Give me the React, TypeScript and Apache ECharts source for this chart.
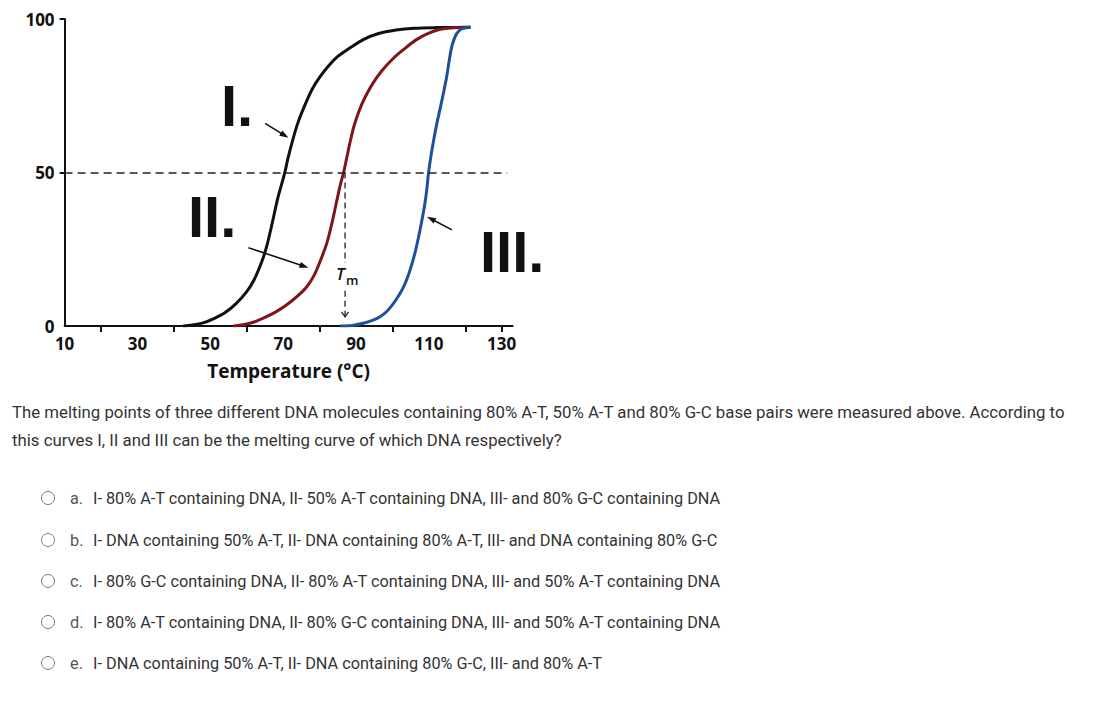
import React, { useEffect, useRef } from "react";
import * as echarts from "echarts";

// Axis values
const xLabelValues = [10, 30, 50, 70, 90, 110, 130];
const xTickValues = [20, 40, 60, 80, 100, 120, 130];
const yLabelValues = [0, 50, 100];
const yTickValues = [50, 100];

// Melting curves: [temperature °C, % denatured]
const curveI = [
  [42.6, 0], [45, 0.3], [48, 1.0], [51, 2.4], [54, 4.3], [57, 7.2], [60, 11.2], [62, 15],
  [64, 20.5], [65.5, 26], [67, 33.5], [68.5, 41.5], [70.4, 49.7], [71.3, 54.5], [72.5, 60],
  [74, 66], [76, 72], [78, 77.2], [80, 81], [82.5, 84.8], [85, 87.8], [88, 90.3], [92, 93.3],
  [96, 95.2], [101, 96.4], [106, 97], [112, 97.2], [121.4, 97.3],
];
const curveII = [
  [56.3, 0], [59, 0.4], [62, 1.3], [65, 2.8], [68, 4.6], [71, 6.9], [74, 9.8], [76.5, 12.8],
  [78.5, 16.5], [80.3, 21.5], [82, 27], [83.3, 33], [84.5, 39.5], [85.6, 45.5], [86.6, 50],
  [87.5, 55], [88.5, 60.5], [89.5, 65.3], [91, 70.5], [92.5, 74.5], [94.5, 78.8], [97, 83],
  [100, 86.9], [103, 90], [106.5, 93.2], [110, 95.4], [114, 96.8], [121.4, 97.3],
];
const curveIII = [
  [85.7, 0], [89, 0.2], [92, 0.9], [94.5, 1.8], [96.6, 3], [98.5, 4.8], [100.3, 7.4],
  [101.8, 10], [103.1, 12.8], [104.3, 16.3], [105.4, 20.4], [106.4, 24.8], [107.2, 29.1],
  [108, 33.8], [108.8, 39], [109.4, 44], [109.9, 49.7], [110.6, 55.5], [111.4, 61],
  [112.3, 66.5], [113.1, 70.8], [114, 75.8], [114.9, 81.2], [115.6, 86.5], [116.3, 91],
  [117, 93.6], [117.7, 95.3], [118.5, 96.4], [119.5, 97], [121.4, 97.3],
];

const halfLevel = 50;
const tmValue = 87;

// Pointer arrows [fromX, fromY, toX, toY] in data units
const pointerArrows = [
  [65.05, 66.0, 71.46, 61.3],
  [60.47, 25.5, 76.95, 19.0],
  [116.35, 31.3, 109.5, 35.6],
];
// Tm drop line segments [x, yTop, x, yBottom, hasHead]
const tmSegments = [
  [tmValue, halfLevel, tmValue, 20.5, 0],
  [tmValue, 11.5, tmValue, 3.0, 1],
];

const questionLines = [
  "The melting points of three different DNA molecules containing 80% A-T, 50% A-T and 80% G-C base pairs were measured above. According to",
  "this curves I, II and III can be the melting curve of which DNA respectively?",
];
const optionLetters = ["a.", "b.", "c.", "d.", "e."];
const optionTexts = [
  "I- 80% A-T containing DNA, II- 50% A-T containing DNA, III- and 80% G-C containing DNA",
  "I- DNA containing 50% A-T, II- DNA containing 80% A-T, III- and DNA containing 80% G-C",
  "I- 80% G-C containing DNA, II- 80% A-T containing DNA, III- and 50% A-T containing DNA",
  "I- 80% A-T containing DNA, II- 80% G-C containing DNA, III- and 50% A-T containing DNA",
  "I- DNA containing 50% A-T, II- DNA containing 80% G-C, III- and 80% A-T",
];

const AXIS_FONT = '"Open Sans", "DejaVu Sans", sans-serif';
const BODY_FONT = 'Roboto, "Liberation Sans", sans-serif';
const ROMAN_FONT = '"Liberation Sans", Arial, sans-serif';

export default function App() {
  const ref = useRef<HTMLDivElement>(null);

  useEffect(() => {
    if (!ref.current) return;
    const chart = echarts.init(ref.current, undefined, { renderer: "svg" });

    const lineSeries = (name: string, data: number[][], color: string, extra: any = {}) => ({
      name,
      type: "line",
      data,
      smooth: 0.3,
      showSymbol: false,
      silent: true,
      lineStyle: { color, width: 3 },
      z: 3,
      ...extra,
    });

    const optionY = [498, 540, 581, 622, 663];
    const graphic: any[] = [
      { type: "text", x: 221, y: 105, style: { text: "I.", font: `bold 58px ${ROMAN_FONT}`, fill: "#111", textVerticalAlign: "middle" } },
      { type: "text", x: 188, y: 216, style: { text: "II.", font: `bold 58px ${ROMAN_FONT}`, fill: "#111", textVerticalAlign: "middle" } },
      { type: "text", x: 480, y: 251, style: { text: "III.", font: `bold 58px ${ROMAN_FONT}`, fill: "#111", textVerticalAlign: "middle" } },
      { type: "text", x: 336, y: 273, style: { text: "T", font: `italic 600 17px ${AXIS_FONT}`, fill: "#111", textVerticalAlign: "middle" } },
      { type: "text", x: 346, y: 280, style: { text: "m", font: `600 13px ${AXIS_FONT}`, fill: "#111", textVerticalAlign: "middle" } },
    ];
    questionLines.forEach((t, i) => {
      graphic.push({ type: "text", x: 12, y: 412 + i * 28, style: { text: t, font: `16.8px ${BODY_FONT}`, fill: "#333", textVerticalAlign: "middle" } });
    });
    optionTexts.forEach((t, i) => {
      graphic.push({ type: "circle", shape: { cx: 48, cy: optionY[i], r: 6.5 }, style: { fill: "#fff", stroke: "#777", lineWidth: 1 } });
      graphic.push({ type: "text", x: 70, y: optionY[i], style: { text: optionLetters[i], font: `16.3px ${BODY_FONT}`, fill: "#555", textVerticalAlign: "middle" } });
      graphic.push({ type: "text", x: 93, y: optionY[i], style: { text: t, font: `16.3px ${BODY_FONT}`, fill: "#333", textVerticalAlign: "middle" } });
    });

    chart.setOption({
      animation: false,
      backgroundColor: "#fff",
      grid: { left: 64.6, right: 1096 - 512.6, top: 19, bottom: 706 - 326, containLabel: false },
      xAxis: {
        type: "value",
        min: 10,
        max: 133,
        splitLine: { show: false },
        axisLine: { show: true, lineStyle: { color: "#111", width: 2 } },
        axisTick: { show: true, customValues: xTickValues, length: 6, lineStyle: { color: "#111", width: 2 } },
        axisLabel: { customValues: xLabelValues, margin: 9, color: "#111", fontFamily: AXIS_FONT, fontWeight: "bold", fontSize: 17 },
        name: "Temperature (°C)",
        nameLocation: "middle",
        nameGap: 35,
        nameTextStyle: { color: "#111", fontFamily: AXIS_FONT, fontWeight: "bold", fontSize: 19 },
      },
      yAxis: {
        type: "value",
        min: 0,
        max: 100,
        splitLine: { show: false },
        axisLine: { show: true, lineStyle: { color: "#111", width: 2 } },
        axisTick: { show: true, customValues: yTickValues, length: 5, lineStyle: { color: "#111", width: 2 } },
        axisLabel: { customValues: yLabelValues, margin: 10, color: "#111", fontFamily: AXIS_FONT, fontWeight: "bold", fontSize: 17 },
      },
      series: [
        lineSeries("I", curveI, "#111111", {
          markLine: {
            silent: true,
            symbol: "none",
            label: { show: false },
            lineStyle: { type: [8, 5], color: "#222", width: 1.5 },
            data: [
              [{ coord: [10, halfLevel] }, { coord: [131.5, halfLevel] }],
            ],
          },
        }),
        lineSeries("II", curveII, "#7d1616"),
        lineSeries("III", curveIII, "#1d4f9a"),
        {
          type: "custom",
          silent: true,
          data: pointerArrows,
          encode: { x: [0, 2], y: [1, 3] },
          z: 4,
          renderItem: (_p: any, api: any) => {
            const p1 = api.coord([api.value(0), api.value(1)]);
            const p2 = api.coord([api.value(2), api.value(3)]);
            const dx = p2[0] - p1[0], dy = p2[1] - p1[1];
            const len = Math.hypot(dx, dy);
            const ux = dx / len, uy = dy / len;
            const hl = 9, hw = 3;
            const bx = p2[0] - ux * hl, by = p2[1] - uy * hl;
            return {
              type: "group",
              children: [
                { type: "line", shape: { x1: p1[0], y1: p1[1], x2: bx + ux * 2, y2: by + uy * 2 }, style: { stroke: "#111", lineWidth: 1.6 } },
                { type: "polygon", shape: { points: [[p2[0], p2[1]], [bx - uy * hw, by + ux * hw], [bx + uy * hw, by - ux * hw]] }, style: { fill: "#111" } },
              ],
            };
          },
        },
        {
          type: "custom",
          silent: true,
          data: tmSegments,
          encode: { x: [0, 2], y: [1, 3] },
          z: 4,
          renderItem: (_p: any, api: any) => {
            const p1 = api.coord([api.value(0), api.value(1)]);
            const p2 = api.coord([api.value(2), api.value(3)]);
            const children: any[] = [
              { type: "line", shape: { x1: p1[0], y1: p1[1], x2: p2[0], y2: p2[1] }, style: { stroke: "#222", lineWidth: 1.3, lineDash: [6, 4] } },
            ];
            if (api.value(4)) {
              children.push({ type: "polyline", shape: { points: [[p2[0] - 3.5, p2[1] - 5], [p2[0], p2[1]], [p2[0] + 3.5, p2[1] - 5]] }, style: { stroke: "#222", lineWidth: 1.3, fill: "none" } });
            }
            return { type: "group", children };
          },
        },
      ],
      graphic,
    });

    return () => chart.dispose();
  }, []);

  return <div ref={ref} style={{ position: "absolute", left: 0, top: 0, width: 1096, height: 706 }} />;
}
